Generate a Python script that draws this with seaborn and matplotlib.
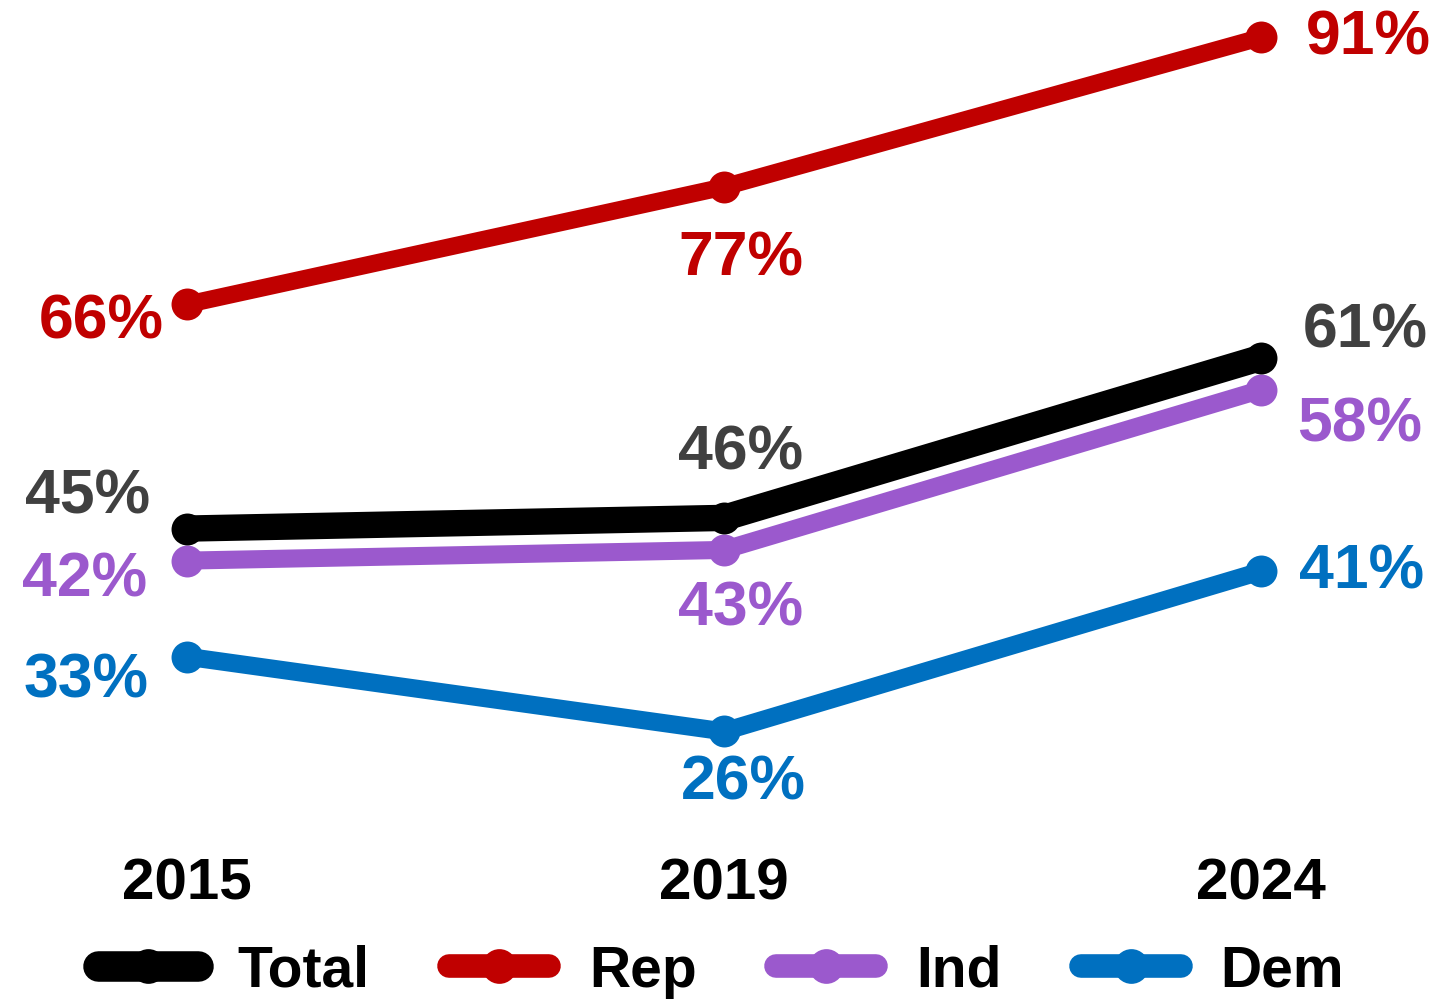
import matplotlib
matplotlib.use("Agg")
import matplotlib.pyplot as plt
import seaborn as sns
import pandas as pd

years = ["2015", "2019", "2024"]
series = ["Total", "Rep", "Ind", "Dem"]
total = [45, 46, 61]
rep = [66, 77, 91]
ind = [42, 43, 58]
dem = [33, 26, 41]

values = {"Total": total, "Rep": rep, "Ind": ind, "Dem": dem}
colors = {"Total": "#000000", "Rep": "#C00000", "Ind": "#9B59CD", "Dem": "#0070C0"}
label_colors = {"Total": "#404040", "Rep": "#C00000", "Ind": "#9B59CD", "Dem": "#0070C0"}
widths = {"Total": 19, "Rep": 12.5, "Ind": 13, "Dem": 13}
legend_widths = {"Total": 22, "Rep": 17, "Ind": 17, "Dem": 17}
# label offsets in pixels (dx, dy)
offsets = {
    "Total": [(-99, 33), (17, 66), (104, 28)],
    "Rep": [(-86, -17), (17, -71), (107, 0)],
    "Ind": [(-102, -18), (17, -58), (99, -34)],
    "Dem": [(-101, -23), (19, -51), (101, 0)],
}

rows = []
for s in series:
    for i, y in enumerate(years):
        rows.append({"series": s, "pos": i, "year": y, "value": values[s][i]})
df = pd.DataFrame(rows)

sns.set_theme(style="white")
plt.rcParams["font.family"] = ["Liberation Sans", "DejaVu Sans"]

fig = plt.figure(figsize=(14.42, 10.03), dpi=100)
ax = fig.add_axes([0, 0, 1, 1])

for s in series:
    d = df[df["series"] == s]
    sns.lineplot(data=d, x="pos", y="value", ax=ax, color=colors[s],
                 linewidth=widths[s], marker="o", markersize=23,
                 markeredgewidth=0, label=s, legend=False,
                 solid_capstyle="round", zorder=3 if s == "Total" else 2)

for s in series:
    d = df[df["series"] == s]
    for (i, row), (dx, dy) in zip(d.reset_index(drop=True).iterrows(), offsets[s]):
        ax.annotate(f"{row['value']}%", (row["pos"], row["value"]),
                    xytext=(dx, dy), textcoords="offset pixels",
                    ha="center", va="center", fontsize=45, fontweight="bold",
                    color=label_colors[s])

for i, y in enumerate(years):
    ax.text(i, 11.8, y, ha="center", va="center", fontsize=42,
            fontweight="bold", color="#000000")

ax.set_xlim(-0.348, 2.337)
ax.set_ylim(0.66, 94.6)
ax.axis("off")

handles, labels = ax.get_legend_handles_labels()
leg = fig.legend(handles, labels, loc="center", bbox_to_anchor=(0.5, 0.031),
                 ncol=4, frameon=False, handlelength=1.75,
                 handletextpad=0.7, columnspacing=1.4,
                 prop={"weight": "bold", "size": 41})
for t in leg.get_texts():
    t.set_color("#000000")
for h, s in zip(leg.legend_handles, labels):
    h.set_solid_capstyle("round")
    h.set_linewidth(legend_widths[s])
    h.set_markersize(25)

fig.savefig("out.png", dpi=100)
